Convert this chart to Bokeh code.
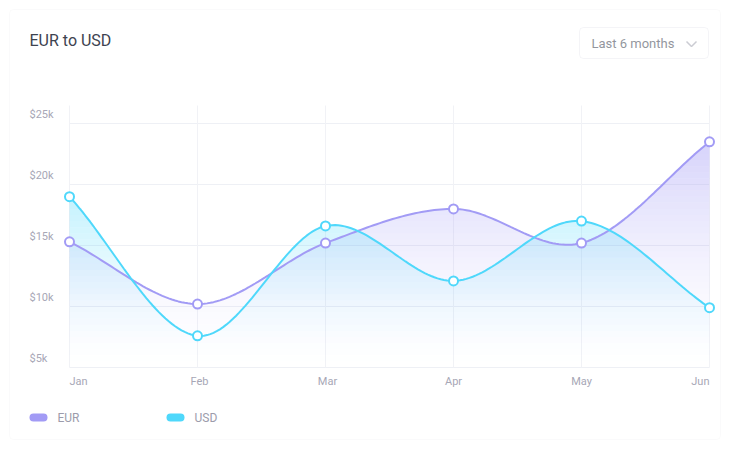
import numpy as np
from bokeh.plotting import figure
from bokeh.models import BoxAnnotation
from bokeh.core.properties import value
from bokeh.embed import file_html
from bokeh.resources import INLINE

months = ["Jan", "Feb", "Mar", "Apr", "May", "Jun"]
eur = [15.3, 10.2, 15.2, 18.0, 15.2, 23.5]
usd = [19.0, 7.6, 16.6, 12.1, 17.0, 9.9]
y_ticks = [5, 10, 15, 20, 25]
y_tick_labels = ["$5k", "$10k", "$15k", "$20k", "$25k"]
series_names = ["EUR", "USD"]
EUR_C = "#a29bf5"
USD_C = "#4fd8fb"
FONT = value("Roboto")

# pixel geometry: 128 px per month, 12.2 px per $1k, origin Jan/$5k at page (69,367)
PXM, PXK = 128.0, 12.2
def px(x): return (x - 69) / PXM
def py(y): return 5 + (367 - y) / PXK

W, H = 722, 441
p = figure(width=W, height=H, x_range=(px(0), px(W)), y_range=(py(H), py(0)),
           output_backend="svg", toolbar_location=None, min_border=0)
p.axis.visible = False
p.grid.visible = False
p.outline_line_color = None
p.background_fill_color = "white"
p.border_fill_color = "white"

p.add_layout(BoxAnnotation(left=px(9), right=px(720), top=py(9), bottom=py(439),
                           fill_color="white", line_color="#f0f0f3", line_width=1,
                           border_radius=4, level="underlay"))

def catmull(ys, n=40):
    xs = np.arange(len(ys), dtype=float)
    ys = np.asarray(ys, float)
    P = np.concatenate([[2 * ys[0] - ys[1]], ys, [2 * ys[-1] - ys[-2]]])
    ox, oy = [], []
    for i in range(len(ys) - 1):
        p0, p1, p2, p3 = P[i], P[i + 1], P[i + 2], P[i + 3]
        t = np.linspace(0, 1, n, endpoint=(i == len(ys) - 2))
        y = 0.5 * ((2 * p1) + (-p0 + p2) * t + (2 * p0 - 5 * p1 + 4 * p2 - p3) * t ** 2
                   + (-p0 + 3 * p1 - 3 * p2 + p3) * t ** 3)
        ox.extend(xs[i] + t)
        oy.extend(y)
    return np.array(ox), np.array(oy)

xi = np.arange(len(months))
ymin, ymax = 5.0, 25.0

# grid
for v in y_ticks:
    p.line([0, 5], [v, v], line_color="#eef0f5", line_width=1)
top = py(105)
for i in xi:
    p.line([i, i], [ymin, top], line_color="#f1f2f6", line_width=1)

# gradient fills by bands
for ys, col, amax in [(eur, EUR_C, 0.5), (usd, USD_C, 0.6)]:
    sx, sy = catmull(ys)
    nb = 40
    edges = np.linspace(ymin, ymax, nb + 1)
    for k in range(nb):
        lo, hi = edges[k], edges[k + 1]
        y2 = np.clip(sy, lo, hi)
        frac = ((lo + hi) / 2 - ymin) / (ymax - ymin)
        a = amax * frac ** 1.6
        p.varea(x=sx, y1=np.full_like(sx, lo), y2=y2, fill_color=col, fill_alpha=a)

for ys, col in [(eur, EUR_C), (usd, USD_C)]:
    sx, sy = catmull(ys)
    p.line(sx, sy, line_color=col, line_width=2)
for ys, col in [(eur, EUR_C), (usd, USD_C)]:
    p.scatter(xi, ys, size=9, fill_color="white", line_color=col, line_width=2)

# y tick labels
p.text(x=[px(29)] * len(y_ticks), y=[v + 3 / PXK for v in y_ticks], text=y_tick_labels,
       text_font=FONT, text_font_size="11px", text_color="#a7a7b6",
       text_align="left", text_baseline="bottom")
# x tick labels
aligns = ["left"] + ["center"] * 4 + ["right"]
offs = [0, 2, 2, 0, 0, 0]
p.text(x=[i + o / PXM for i, o in zip(xi, offs)], y=[py(381)] * len(months), text=months,
       text_font=FONT, text_font_size="11px", text_color="#a7a7b6",
       text_align=aligns, text_baseline="middle")

# title
p.text(x=[px(29)], y=[py(40)], text=["EUR to USD"], text_font=FONT, text_font_size="16px",
       text_color="#3d4350", text_baseline="middle")

# dropdown
p.add_layout(BoxAnnotation(left=px(579), right=px(708), top=py(27), bottom=py(58),
                           fill_color="white", line_color="#d9dae3", line_width=1,
                           border_radius=4))
p.text(x=[px(591)], y=[py(43)], text=["Last 6 months"], text_font=FONT, text_font_size="13px",
       text_color="#4a4f5c", text_baseline="middle")
p.line([px(686), px(691), px(696)], [py(41), py(46), py(41)], line_color="#a9abb6", line_width=1.5)

# legend
for name, col, x0 in zip(series_names, [EUR_C, USD_C], [33, 170]):
    p.line([px(x0), px(x0 + 10)], [py(417), py(417)], line_color=col, line_width=8, line_cap="round")
    p.text(x=[px(x0 + 24)], y=[py(417)], text=[name], text_font=FONT, text_font_size="12px",
           text_color="#9c9cab", text_baseline="middle")

open("out.html", "w").write(file_html(p, INLINE))
